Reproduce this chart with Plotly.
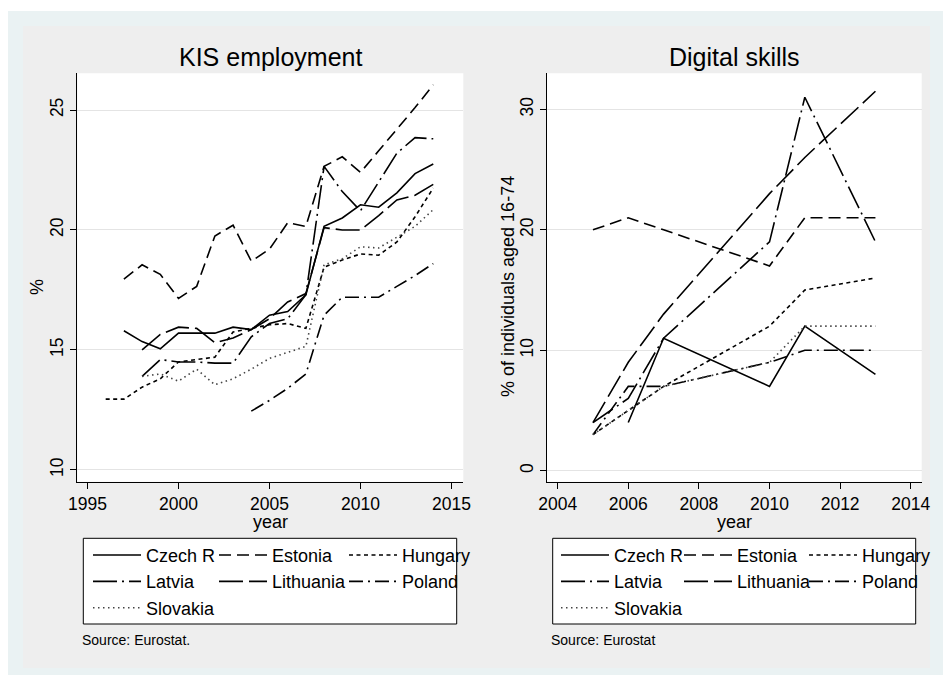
import plotly.graph_objects as go

W, H = 943, 675
FONT = "Liberation Sans, Arial, Helvetica, sans-serif"

# ---- KIS employment (% of total employment) ----
kis_years = list(range(1996, 2015))
kis_czech = [None, 15.8, 15.35, 15.05, 15.7, 15.7, 15.7, 15.95, 15.85, 16.45, 16.6,
             17.3, 20.15, 20.5, 21.05, 20.95, 21.55, 22.35, 22.75]
kis_estonia = [None, 17.95, 18.55, 18.15, 17.15, 17.65, 19.75, 20.2, 18.7, 19.2, 20.3,
               20.15, 22.65, 23.05, 22.4, 23.3, 24.2, 25.1, 26.05]
kis_hungary = [12.95, 12.95, 13.45, 13.8, 14.5, 14.6, 14.7, 15.75, 15.9, 16.05, 16.1,
               15.9, 18.45, 18.75, 19.0, 18.95, 19.5, 20.55, 21.75]
kis_latvia = [None, None, 13.9, 14.6, 14.5, 14.5, 14.45, 14.45, 15.55, 16.1, 16.3,
              17.3, 22.65, 21.6, 20.8, 22.0, 23.2, 23.85, 23.8]
kis_lithuania = [None, None, 15.0, 15.65, 15.95, 15.9, 15.3, 15.5, 15.85, 16.3, 17.0,
                 17.35, 20.1, 20.0, 20.0, 20.6, 21.25, 21.45, 21.9]
kis_poland = [None] * 8 + [12.45, 12.9, 13.4, 14.0, 16.45, 17.2, 17.2, 17.2, 17.65, 18.1, 18.6]
kis_slovakia = [None, None, 13.9, 14.0, 13.7, 14.2, 13.55, 13.8, 14.2, 14.65, 14.9,
                15.15, 18.55, 18.8, 19.3, 19.25, 19.7, 20.15, 20.85]

# ---- Digital skills (% of individuals aged 16-74) ----
dig_years = [2005, 2006, 2007, 2010, 2011, 2013]
dig_czech = [None, 4, 11, 7, 12, 8]
dig_estonia = [20, 21, 20, 17, 21, 21]
dig_hungary = [3, 5, 7, 12, 15, 16]
dig_latvia = [4, 6, 11, 19, 31, 19]
dig_lithuania = [4, 9, 13, 23, 26, 31.5]
dig_poland = [3, 7, 7, 9, 10, 10]
dig_slovakia = [3, 5, 7, 9, 12, 12]

countries = ["Czech R", "Estonia", "Hungary", "Latvia", "Lithuania", "Poland", "Slovakia"]
kis_series = [kis_czech, kis_estonia, kis_hungary, kis_latvia, kis_lithuania, kis_poland, kis_slovakia]
dig_series = [dig_czech, dig_estonia, dig_hungary, dig_latvia, dig_lithuania, dig_poland, dig_slovakia]

# line pattern per country
styles = {
    "Czech R": dict(dash="solid", color="black"),
    "Estonia": dict(dash="12px,6px", color="black"),
    "Hungary": dict(dash="4px,3.5px", color="black"),
    "Latvia": dict(dash="24px,5px,2px,5px", color="black"),
    "Lithuania": dict(dash="24px,6px", color="black"),
    "Poland": dict(dash="14px,5px,2px,5px", color="black"),
    "Slovakia": dict(dash="1.5px,3.5px", color="#444444"),
}
# legend column of each country (three columns per panel)
column = {"Czech R": 0, "Latvia": 0, "Slovakia": 0,
          "Estonia": 1, "Lithuania": 1,
          "Hungary": 2, "Poland": 2}


def px_x(x):
    return x / W


def px_y(y):
    return 1 - y / H


fig = go.Figure()

legend_names = ["legend", "legend2", "legend3", "legend4", "legend5", "legend6"]

for panel, (xs, series, xa, ya) in enumerate([(kis_years, kis_series, "x", "y"),
                                              (dig_years, dig_series, "x2", "y2")]):
    for name, vals in zip(countries, series):
        st = styles[name]
        fig.add_trace(go.Scatter(
            x=xs, y=vals, mode="lines", name=name,
            xaxis=xa, yaxis=ya,
            line=dict(color=st["color"], width=1.6, dash=st["dash"]),
            legend=legend_names[panel * 3 + column[name]],
            legendgroup=f"{panel}-{name}",
            hoverinfo="skip",
        ))

# panel geometry in pixels
left_box = (77.3, 463.3)
right_box = (546.7, 921.7)
top_px, bottom_px = 73.3, 481.7

axis_common = dict(
    showline=True, linecolor="black", linewidth=1,
    ticks="outside", ticklen=6, tickcolor="black", tickwidth=1,
    tickfont=dict(size=17.5, color="black", family=FONT),
    zeroline=False, automargin=False, mirror=False,
)
grid = dict(showgrid=True, gridcolor="#e4e4e4", gridwidth=1)

fig.update_layout(
    xaxis=dict(domain=[px_x(left_box[0]), px_x(left_box[1])], anchor="y",
               range=[1994.44, 2015.65], tickvals=[1995, 2000, 2005, 2010, 2015],
               showgrid=False, **axis_common),
    yaxis=dict(domain=[px_y(bottom_px), px_y(top_px)], anchor="x",
               range=[9.51, 26.53], tickvals=[10, 15, 20, 25], tickangle=-90,
               **grid, **axis_common),
    xaxis2=dict(domain=[px_x(right_box[0]), px_x(right_box[1])], anchor="y2",
                range=[2003.69, 2014.31], tickvals=[2004, 2006, 2008, 2010, 2012, 2014],
                showgrid=False, **axis_common),
    yaxis2=dict(domain=[px_y(bottom_px), px_y(top_px)], anchor="x2",
                range=[-0.91, 32.99], tickvals=[0, 10, 20, 30], tickangle=-90,
                **grid, **axis_common),
)

# legends: three columns per panel
legend_text_x = [146, 272, 402, 614, 737, 862]
for lname, tx in zip(legend_names, legend_text_x):
    fig.update_layout({lname: dict(
        x=px_x(tx - 58), y=px_y(536.8), xanchor="left", yanchor="top",
        orientation="v", bgcolor="rgba(0,0,0,0)", borderwidth=0,
        font=dict(size=18, color="black", family=FONT),
        itemwidth=48, tracegroupgap=0.2, traceorder="normal",
    )})

shapes = [
    # outer frame and inner panel background
    dict(type="rect", xref="paper", yref="paper", x0=px_x(8), x1=px_x(W), y0=px_y(H), y1=px_y(11),
         fillcolor="#eaf2f3", line_width=0, layer="below"),
    dict(type="rect", xref="paper", yref="paper", x0=px_x(23), x1=px_x(930), y0=px_y(668), y1=px_y(26),
         fillcolor="#eeeeee", line_width=0, layer="below"),
    # plot regions
    dict(type="rect", xref="paper", yref="paper", x0=px_x(left_box[0]), x1=px_x(left_box[1]),
         y0=px_y(bottom_px), y1=px_y(top_px), fillcolor="white", line_width=0, layer="below"),
    dict(type="rect", xref="paper", yref="paper", x0=px_x(right_box[0]), x1=px_x(right_box[1]),
         y0=px_y(bottom_px), y1=px_y(top_px), fillcolor="white", line_width=0, layer="below"),
    # legend boxes
    dict(type="rect", xref="paper", yref="paper", x0=px_x(83.3), x1=px_x(456.7),
         y0=px_y(624), y1=px_y(538.3), fillcolor="white", line=dict(color="black", width=1), layer="below"),
    dict(type="rect", xref="paper", yref="paper", x0=px_x(552.7), x1=px_x(915.7),
         y0=px_y(624), y1=px_y(538.3), fillcolor="white", line=dict(color="black", width=1), layer="below"),
]


def label(text, x, y, size, angle=0, anchor="center"):
    return dict(text=text, xref="paper", yref="paper", x=px_x(x), y=px_y(y),
                xanchor=anchor, yanchor="middle", textangle=angle, showarrow=False,
                font=dict(size=size, color="black", family=FONT))


left_mid = (left_box[0] + left_box[1]) / 2
right_mid = (right_box[0] + right_box[1]) / 2
annotations = [
    label("KIS employment", left_mid, 56.7, 25),
    label("Digital skills", right_mid, 56.7, 25),
    # axis titles
    label("year", left_mid, 521.5, 18),
    label("year", right_mid, 521.5, 18),
    label("%", 37, 287, 18, angle=-90),
    label("% of individuals aged 16-74", 508, 287, 18, angle=-90),
    # sources
    label("Source: Eurostat.", 80, 640, 14, anchor="left"),
    label("Source: Eurostat", 549, 640, 14, anchor="left"),
]

fig.update_layout(
    width=W, height=H,
    margin=dict(l=0, r=0, t=0, b=0),
    paper_bgcolor="white", plot_bgcolor="white",
    font=dict(family=FONT, color="black"),
    shapes=shapes, annotations=annotations,
    showlegend=True, hovermode=False,
)

fig.write_html("out.html")
